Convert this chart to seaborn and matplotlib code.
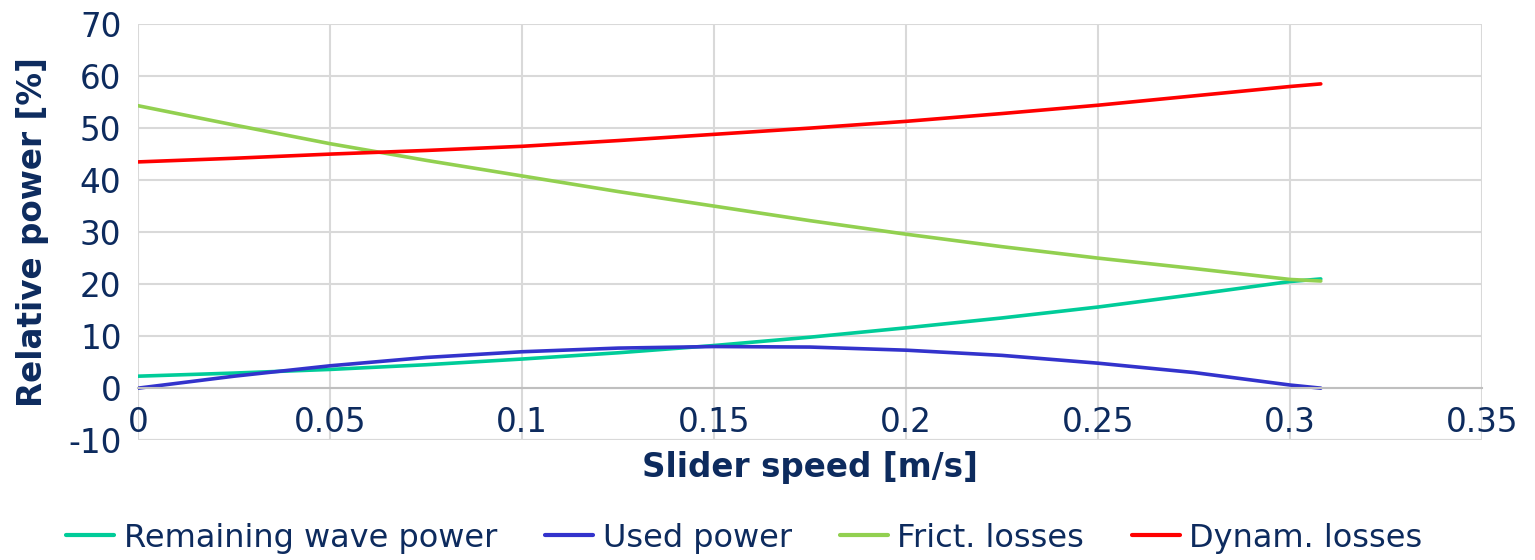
import pandas as pd
import matplotlib.pyplot as plt
import seaborn as sns

sns.set_style("white")
plt.rcParams['font.family'] = ['DejaVu Sans']
plt.rcParams['axes.unicode_minus'] = False

speed = [0, 0.025, 0.05, 0.075, 0.1, 0.125, 0.15, 0.175, 0.2, 0.225, 0.25, 0.275, 0.3, 0.308]
remaining = [2.3, 2.9, 3.6, 4.5, 5.6, 6.8, 8.2, 9.8, 11.6, 13.5, 15.6, 18.0, 20.5, 21.0]
used = [0.0, 2.3, 4.3, 5.9, 7.0, 7.7, 8.0, 7.9, 7.3, 6.3, 4.8, 3.0, 0.6, 0.0]
frict = [54.3, 50.6, 47.0, 43.8, 40.8, 37.8, 35.0, 32.2, 29.6, 27.2, 25.0, 23.0, 20.9, 20.6]
dynam = [43.5, 44.2, 45.0, 45.7, 46.5, 47.6, 48.8, 50.0, 51.3, 52.8, 54.4, 56.2, 58.0, 58.5]

names = ["Remaining wave power", "Used power", "Frict. losses", "Dynam. losses"]
colors = ["#00CC99", "#3333CC", "#92D050", "#FF0000"]
xticks = [0, 0.05, 0.1, 0.15, 0.2, 0.25, 0.3, 0.35]
xlabels = ["0", "0.05", "0.1", "0.15", "0.2", "0.25", "0.3", "0.35"]
yticks = [-10, 0, 10, 20, 30, 40, 50, 60, 70]

navy = "#0D2B5E"

df = pd.concat([pd.DataFrame({"speed": speed, "power": v, "series": n})
                for n, v in zip(names, [remaining, used, frict, dynam])])

fig = plt.figure(figsize=(15.35, 5.6), dpi=100)
ax = fig.add_axes([0.09, 0.214, 0.8755, 0.743])
sns.lineplot(data=df, x="speed", y="power", hue="series", hue_order=names,
             palette=dict(zip(names, colors)), lw=2.6, ax=ax, legend=False,
             solid_capstyle="round")

ax.set_xlim(0, 0.35)
ax.set_ylim(-10, 70)
ax.set_xticks(xticks)
ax.set_xticklabels(xlabels)
ax.set_yticks(yticks)
ax.set_xlabel("")
ax.grid(True, color="#D9D9D9", lw=1.5)
ax.set_axisbelow(True)
for s in ["top", "right", "left"]:
    ax.spines[s].set_visible(False)
ax.spines["bottom"].set_position(("data", 0))
ax.spines["bottom"].set_color("#BFBFBF")
ax.spines["bottom"].set_linewidth(1.5)
ax.axhline(-10, color="#D9D9D9", lw=1.5, zorder=0)
ax.tick_params(axis="both", length=0, labelsize=23.5, labelcolor=navy)
ax.tick_params(axis="x", pad=13)
ax.tick_params(axis="y", pad=12)

ax.set_ylabel("Relative power [%]", fontsize=23.5, fontweight="bold", color=navy, labelpad=14)
ax.text(0.5, -0.025, "Slider speed [m/s]", transform=ax.transAxes, ha="center", va="top",
        fontsize=23.5, fontweight="bold", color=navy)

handles = [plt.Line2D([], [], color=c, lw=3) for c in colors]
fig.legend(handles, names, loc="lower center", bbox_to_anchor=(0.485, -0.04), ncol=4,
           frameon=False, fontsize=23, labelcolor=navy, handlelength=1.5,
           handletextpad=0.3, columnspacing=1.5)

fig.savefig("out.png", dpi=100)
